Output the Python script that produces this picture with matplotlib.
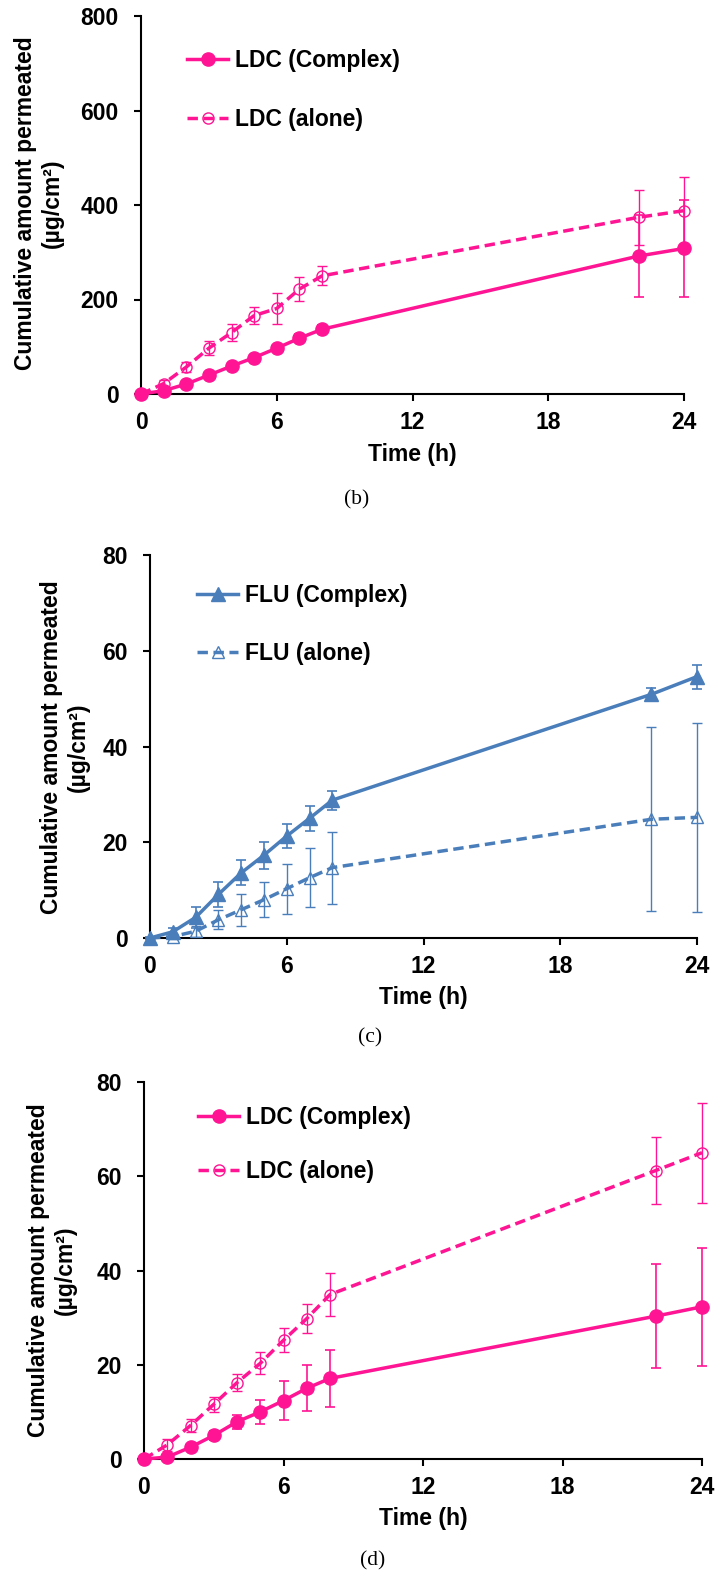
import matplotlib
matplotlib.use("Agg")
import matplotlib.pyplot as plt
from matplotlib.lines import Line2D

plt.rcParams['font.family'] = ['Liberation Sans', 'DejaVu Sans']
plt.rcParams['font.weight'] = 'bold'
plt.rcParams['font.size'] = 16.5

# sampling times (h)
time = [0, 1, 2, 3, 4, 5, 6, 7, 8, 22, 24]
x_ticks = [0, 6, 12, 18, 24]

# panel (b) - LDC, ug/cm2
b_complex = [0, 7, 21, 40, 59, 77, 97, 118, 137, 292, 308]
b_complex_err = [0, 3, 4, 5, 6, 6, 7, 8, 8, 86, 102]
b_alone = [0, 22, 57, 97, 130, 166, 181, 222, 250, 374, 388]
b_alone_err = [0, 8, 10, 15, 18, 18, 33, 25, 20, 58, 72]

# panel (c) - FLU
c_complex = [0, 1.3, 4.3, 9.1, 13.6, 17.3, 21.3, 25.0, 28.8, 50.9, 54.6]
c_complex_err = [0.3, 0.8, 2.2, 2.6, 2.6, 2.8, 2.6, 2.6, 2.0, 1.3, 2.5]
c_alone = [0, 0.3, 1.4, 3.8, 5.9, 8.0, 10.3, 12.6, 14.7, 24.8, 25.2]
c_alone_err = [0.2, 0.5, 1.2, 2.0, 3.3, 3.7, 5.2, 6.2, 7.5, 19.2, 19.8]

# panel (d) - LDC
d_complex = [0, 0.4, 2.5, 5.0, 7.9, 10.0, 12.4, 15.0, 17.1, 30.3, 32.3]
d_complex_err = [0, 0.3, 0.6, 0.9, 1.5, 2.6, 4.1, 4.9, 6.1, 11.0, 12.5]
d_alone = [0, 3.0, 7.1, 11.6, 16.2, 20.3, 25.2, 29.8, 34.9, 61.2, 65.0]
d_alone_err = [0, 1.2, 1.4, 1.6, 1.8, 2.3, 2.5, 3.0, 4.5, 7.1, 10.6]

PINK = '#ff1493'
BLUE = '#4a7ebb'
W, H = 717, 1573

fig = plt.figure(figsize=(W / 100, H / 100), dpi=100)


def box(left, right, top, bottom):
    return [left / W, 1 - bottom / H, (right - left) / W, (bottom - top) / H]


def ftext(x, y, s, **kw):
    fig.text(x / W, 1 - y / H, s, ha='center', va='center', **kw)


def panel(rect, ymax, yticks, complex_y, complex_err, alone_y, alone_err,
          color, marker, names, leg_xy, leg_space, ylab_xy, tag_xy, tag):
    ax = fig.add_axes(rect)
    ax.errorbar(time, alone_y, yerr=alone_err, fmt='none', ecolor=color,
                elinewidth=1, capsize=3.5, capthick=1, clip_on=False, zorder=2)
    ax.errorbar(time, complex_y, yerr=complex_err, fmt='none', ecolor=color,
                elinewidth=1.2, capsize=3.5, capthick=1.2, clip_on=False, zorder=3)
    ax.plot(time, alone_y, color=color, lw=2.5, ls=(0, (3, 1.6)), marker=marker,
            ms=8, mfc='none', mec=color, mew=1, clip_on=False, zorder=4)
    ax.plot(time, complex_y, color=color, lw=2.5, marker=marker, ms=9.5,
            mfc=color, mec=color, clip_on=False, zorder=5)

    ax.set_xlim(0, 24)
    ax.set_ylim(0, ymax)
    ax.set_xticks(x_ticks)
    ax.set_yticks(yticks)
    for s in ['top', 'right']:
        ax.spines[s].set_visible(False)
    for s in ['left', 'bottom']:
        ax.spines[s].set_linewidth(1.5)
    ax.tick_params(axis='x', length=5, width=1.5, pad=7)
    ax.tick_params(axis='y', length=5, width=1.5, pad=11)

    handles = [
        Line2D([], [], color=color, lw=2.5, marker=marker, ms=9.5, mfc=color, mec=color),
        Line2D([], [], color=color, lw=2.5, ls=(0, (3, 1.6)), marker=marker, ms=8,
               mfc='none', mec=color, mew=1),
    ]
    ax.legend(handles, names, loc='upper left', bbox_to_anchor=leg_xy, frameon=False,
              borderpad=0, borderaxespad=0, handlelength=1.8, handletextpad=0.3,
              labelspacing=leg_space)

    pos = ax.get_position()
    bottom_px = (1 - pos.y0) * H
    centre_px = (pos.x0 + pos.width / 2) * W
    ftext(centre_px, bottom_px + 60, 'Time (h)')
    ftext(ylab_xy[0], ylab_xy[1], 'Cumulative amount permeated\n(µg/cm²)',
          rotation=90, linespacing=1.2)
    ftext(tag_xy[0], tag_xy[1], tag, family='Liberation Serif', weight='normal',
          size=15.5)
    return ax


panel(box(141, 684, 16, 394), 800, [0, 200, 400, 600, 800],
      b_complex, b_complex_err, b_alone, b_alone_err, PINK, 'o',
      ['LDC (Complex)', 'LDC (alone)'], (0.085, 0.913), 1.57, (39, 203), (357, 500), '(b)')

panel(box(150, 697, 555, 938), 80, [0, 20, 40, 60, 80],
      c_complex, c_complex_err, c_alone, c_alone_err, BLUE, '^',
      ['FLU (Complex)', 'FLU (alone)'], (0.086, 0.924), 1.52, (65, 747), (370, 1038), '(c)')

panel(box(144, 702, 1082, 1459), 80, [0, 20, 40, 60, 80],
      d_complex, d_complex_err, d_alone, d_alone_err, PINK, 'o',
      ['LDC (Complex)', 'LDC (alone)'], (0.097, 0.936), 1.35, (52, 1270), (373, 1561), '(d)')

fig.savefig('out.png', dpi=100)
